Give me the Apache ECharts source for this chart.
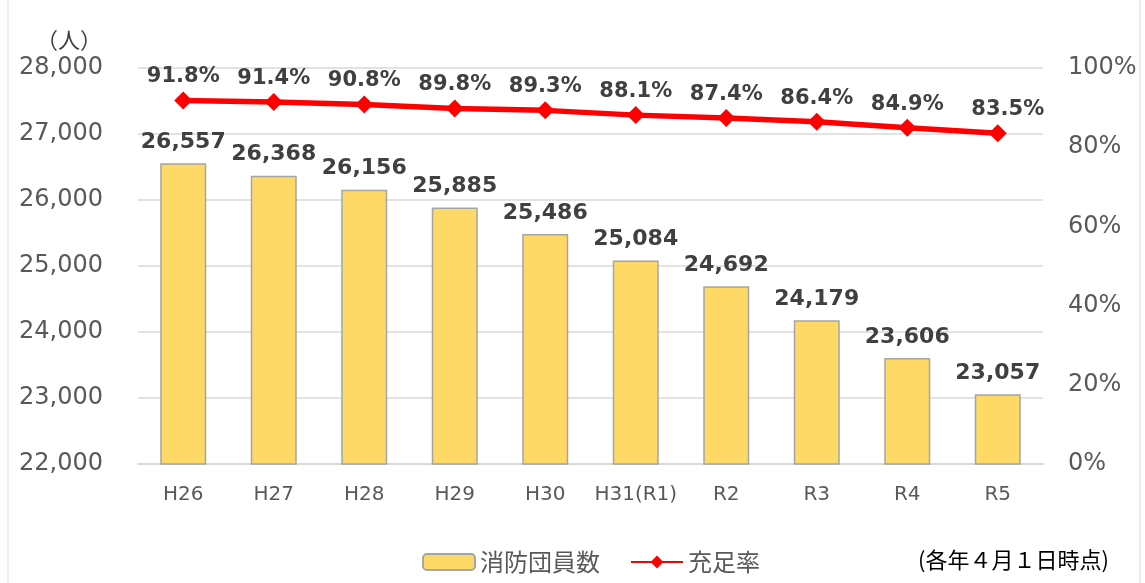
<!DOCTYPE html>
<html lang="ja">
<head>
    <meta charset="UTF-8">
    <title>消防団員数と充足率</title>
    <style>
        html, body { margin: 0; padding: 0; background: #fff; }
        #main { width: 1145px; height: 583px; }
    </style>
</head>
<body>
<div id="main"></div>
<script src="https://cdn.jsdelivr.net/npm/echarts@6/dist/echarts.min.js"></script>
<script>
    // 年度
    var categories = ['H26', 'H27', 'H28', 'H29', 'H30', 'H31(R1)', 'R2', 'R3', 'R4', 'R5'];
    // 消防団員数（人）
    var members = [26557, 26368, 26156, 25885, 25486, 25084, 24692, 24179, 23606, 23057];
    // 充足率（%）
    var rates = [91.8, 91.4, 90.8, 89.8, 89.3, 88.1, 87.4, 86.4, 84.9, 83.5];

    var numFont = '"DejaVu Sans", Verdana, sans-serif';
    var jpFont = '"Noto Sans CJK JP", sans-serif';

    function comma(v) {
        return String(v).replace(/\B(?=(\d{3})+(?!\d))/g, ',');
    }

    // 最後の点だけラベルを少し右へ（元図に合わせる）
    var rateData = rates.map(function (v, i) {
        if (i === rates.length - 1) return { value: v, label: { offset: [10, 0] } };
        return v;
    });

    var chart = echarts.init(document.getElementById('main'));
    var option = {
        animation: false,
        grid: { left: 138, right: 102, top: 68, bottom: 119 },
        legend: {
            left: 417,
            top: 545,
            itemWidth: 52,
            itemHeight: 16,
            itemGap: 30,
            textStyle: { fontSize: 24, color: '#595959', fontFamily: jpFont },
            data: ['消防団員数', '充足率']
        },
        xAxis: {
            type: 'category',
            data: categories,
            axisLine: { lineStyle: { color: '#d9d9d9', width: 2 } },
            axisTick: { show: false },
            axisLabel: { interval: 0, fontSize: 20, color: '#595959', margin: 21, fontFamily: numFont }
        },
        yAxis: [{
            type: 'value',
            min: 22000,
            max: 28000,
            interval: 1000,
            axisLine: { show: false },
            axisTick: { show: false },
            splitLine: { lineStyle: { color: '#d9d9d9', width: 1.5 } },
            axisLabel: {
                fontSize: 24, color: '#595959', margin: 35, fontFamily: numFont,
                formatter: function (v) { return comma(v); }
            }
        }, {
            type: 'value',
            min: 0,
            max: 100,
            interval: 20,
            axisLine: { show: false },
            axisTick: { show: false },
            splitLine: { show: false },
            axisLabel: {
                fontSize: 24, color: '#595959', margin: 25, fontFamily: numFont,
                formatter: '{value}%'
            }
        }],
        series: [{
            name: '消防団員数',
            type: 'bar',
            data: members,
            barWidth: 46,
            itemStyle: { color: '#FFD966', borderColor: '#a5a5a5', borderWidth: 1.5 },
            label: {
                show: true,
                position: 'top',
                distance: 10,
                fontSize: 22,
                fontWeight: 'bold',
                color: '#404040',
                fontFamily: numFont,
                formatter: function (p) { return comma(p.value); }
            }
        }, {
            name: '充足率',
            type: 'line',
            yAxisIndex: 1,
            data: rateData,
            symbol: 'diamond',
            symbolSize: 18,
            lineStyle: { color: '#ff0000', width: 5.5 },
            itemStyle: { color: '#ff0000' },
            label: {
                show: true,
                position: 'top',
                distance: 4,
                fontSize: 21,
                fontWeight: 'bold',
                color: '#404040',
                fontFamily: numFont,
                formatter: function (p) { return p.value.toFixed(1) + '%'; }
            },
            z: 5
        }],
        graphic: [{
            type: 'text',
            left: 36,
            top: 29,
            style: { text: '（人）', font: '22px ' + jpFont, fill: '#404040' }
        }, {
            type: 'text',
            left: 918,
            top: 549,
            style: { text: '(各年４月１日時点)', font: '22px ' + jpFont, fill: '#000' }
        }, {
            type: 'line',
            shape: { x1: 8, y1: 0, x2: 8, y2: 583 },
            style: { stroke: '#d9d9d9', lineWidth: 1 }
        }, {
            type: 'line',
            shape: { x1: 1140, y1: 0, x2: 1140, y2: 583 },
            style: { stroke: '#d9d9d9', lineWidth: 1 }
        }]
    };
    chart.setOption(option);
</script>
</body>
</html>
